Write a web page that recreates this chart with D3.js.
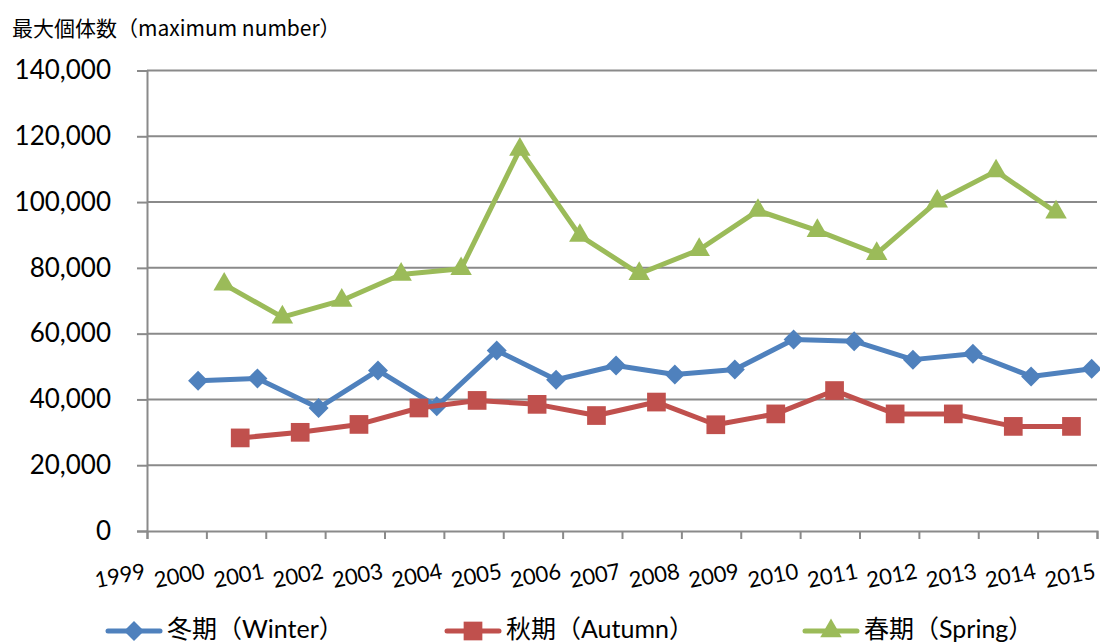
<!DOCTYPE html>
<html><head><meta charset="utf-8">
<script src="https://cdn.jsdelivr.net/npm/d3@7"></script>
<style>body{margin:0;background:#fff;} svg{display:block;}</style>
</head><body>
<svg id="c" width="1100" height="642"></svg>
<script>
const yTicks = [0, 20000, 40000, 60000, 80000, 100000, 120000, 140000];
const xTicks = [1999,2000,2001,2002,2003,2004,2005,2006,2007,2008,2009,2010,2011,2012,2013,2014,2015];

const winterX = [1999.86,2000.86,2001.89,2002.89,2003.88,2004.89,2005.89,2006.90,2007.89,2008.90,2009.89,2010.91,2011.90,2012.91,2013.89,2014.91];
const winterY = [45700,46400,37400,48800,37900,54900,46000,50300,47600,49100,58200,57700,52100,53900,47000,49300];

const autumnX = [2000.57,2001.58,2002.57,2003.58,2004.56,2005.57,2006.57,2007.58,2008.58,2009.59,2010.58,2011.60,2012.58,2013.59,2014.57];
const autumnY = [28300,30000,32400,37400,39700,38500,35100,39200,32300,35600,42700,35600,35600,31800,31800];

const springX = [2000.30,2001.28,2002.28,2003.28,2004.29,2005.28,2006.29,2007.29,2008.30,2009.29,2010.29,2011.29,2012.31,2013.30,2014.31];
const springY = [75000,65000,70100,78000,79700,116000,89800,78200,85500,97400,91300,84300,100200,109400,96900];

const seriesNames = ["冬期（Winter）", "秋期（Autumn）", "春期（Spring）"];
const colors = ["#4F81BD", "#C0504D", "#9BBB59"];

const diamondSym = { draw(ctx, size) { const h = Math.sqrt(size / 2);
  ctx.moveTo(0, -h); ctx.lineTo(h, 0); ctx.lineTo(0, h); ctx.lineTo(-h, 0); ctx.closePath(); } };
const symbols = [diamondSym, d3.symbolSquare, d3.symbolTriangle];
const symSizes = [200, 350, 200];

const series = [
  {name: seriesNames[0], color: colors[0], sym: symbols[0], size: symSizes[0], pts: winterX.map((x,i)=>({x, y: winterY[i]}))},
  {name: seriesNames[1], color: colors[1], sym: symbols[1], size: symSizes[1], pts: autumnX.map((x,i)=>({x, y: autumnY[i]}))},
  {name: seriesNames[2], color: colors[2], sym: symbols[2], size: symSizes[2], pts: springX.map((x,i)=>({x, y: springY[i]}))}
];

const svg = d3.select("#c");
const x = d3.scaleLinear().domain([1999, 2015]).range([147, 1097]);
const y = d3.scaleLinear().domain([0, 140000]).range([531, 70.5]);
const gridColor = "#8a8a8a";
const latin = "Lato, 'Noto Sans CJK JP', sans-serif";

// gridlines
svg.append("g").selectAll("line").data(yTicks.filter(d=>d>0)).join("line")
  .attr("x1", x(1999)).attr("x2", x(2015))
  .attr("y1", d=>y(d)).attr("y2", d=>y(d))
  .attr("stroke", gridColor).attr("stroke-width", 2);

// y axis
const yAxis = svg.append("g").attr("transform", `translate(${x(1999)},0)`)
  .call(d3.axisLeft(y).tickValues(yTicks).tickSize(10).tickPadding(26).tickFormat(d3.format(",")));
yAxis.select(".domain").attr("stroke", gridColor).attr("stroke-width", 2);
yAxis.selectAll(".tick line").attr("stroke", gridColor).attr("stroke-width", 2);
yAxis.selectAll("text").attr("font-family", latin).attr("font-size", 26).attr("fill", "#000");

// x axis
const xAxis = svg.append("g").attr("transform", `translate(0,${y(0)})`)
  .call(d3.axisBottom(x).tickValues(xTicks).tickSize(8).tickFormat(d3.format("d")));
xAxis.select(".domain").attr("stroke", gridColor).attr("stroke-width", 2);
xAxis.selectAll(".tick line").attr("stroke", gridColor).attr("stroke-width", 2);
xAxis.selectAll("text")
  .attr("font-family", latin).attr("font-size", 22).attr("fill", "#000")
  .attr("text-anchor", "end").attr("dy", null).attr("y", 0).attr("x", -1)
  .attr("transform", "translate(0,47) rotate(-11)");

// series
const line = d3.line().x(d=>x(d.x)).y(d=>y(d.y));
series.forEach(s => {
  const g = svg.append("g");
  g.append("path").datum(s.pts).attr("d", line)
    .attr("fill", "none").attr("stroke", s.color).attr("stroke-width", 5)
    .attr("stroke-linejoin", "round").attr("stroke-linecap", "round");
  g.selectAll("path.m").data(s.pts).join("path").attr("class","m")
    .attr("transform", d=>`translate(${x(d.x)},${y(d.y)})`)
    .attr("d", d3.symbol().type(s.sym).size(s.size))
    .attr("fill", s.color);
});

// title
svg.append("text").attr("x", 12).attr("y", 36)
  .attr("font-family", "'Noto Sans CJK JP', sans-serif").attr("font-size", 21).attr("fill", "#000")
  .text("最大個体数（maximum number）");

// legend
const legX = [108, 447, 805];
series.forEach((s, i) => {
  const g = svg.append("g").attr("transform", `translate(${legX[i]},631)`);
  g.append("line").attr("x1", 0).attr("x2", 52).attr("y1", 0).attr("y2", 0)
    .attr("stroke", s.color).attr("stroke-width", 5).attr("stroke-linecap", "round");
  g.append("path").attr("transform", "translate(26,0)")
    .attr("d", d3.symbol().type(s.sym).size(s.size)).attr("fill", s.color);
  g.append("text").attr("x", 59).attr("y", -2).attr("dy", "0.36em")
    .attr("font-family", latin).attr("font-size", 25).attr("fill", "#000")
    .text(s.name);
});
</script>
</body></html>
